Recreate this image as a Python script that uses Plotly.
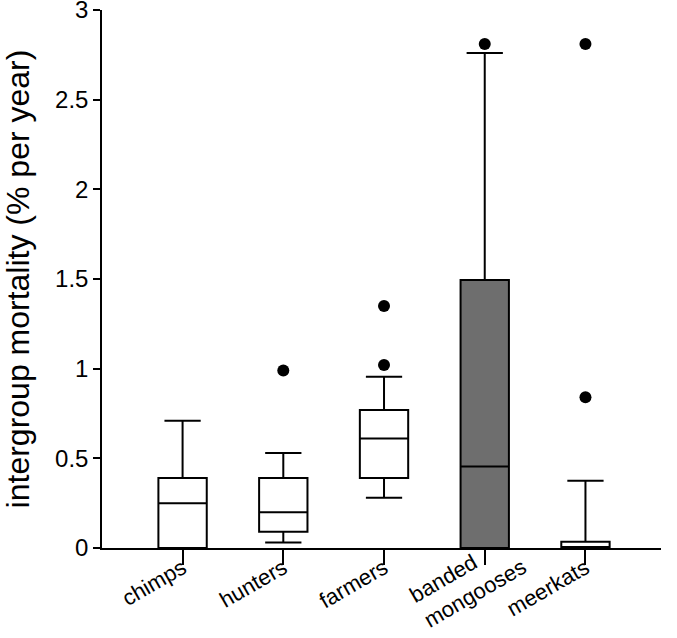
import plotly.graph_objects as go

categories = ["chimps", "hunters", "farmers", "banded mongooses", "meerkats"]
tick_labels = ["chimps", "hunters", "farmers", "", "meerkats"]
two_line_label = "banded<br>mongooses"
q1 = [0.0, 0.09, 0.39, 0.0, 0.0]
median = [0.25, 0.20, 0.61, 0.455, 0.0]
q3 = [0.39, 0.39, 0.77, 1.495, 0.035]
lower = [0.0, 0.03, 0.28, 0.0, 0.0]
upper = [0.71, 0.53, 0.955, 2.76, 0.375]
fills = ["white", "white", "white", "#6e6e6e", "white"]

outlier_cat = ["hunters", "farmers", "farmers", "banded mongooses", "meerkats", "meerkats"]
outlier_val = [0.99, 1.02, 1.35, 2.81, 0.84, 2.81]

fig = go.Figure()
for i, c in enumerate(categories):
    fig.add_trace(go.Box(
        x=[c], q1=[q1[i]], median=[median[i]], q3=[q3[i]],
        lowerfence=[lower[i]], upperfence=[upper[i]],
        fillcolor=fills[i], line=dict(color="black", width=2),
        width=0.48, whiskerwidth=0.75, boxpoints=False,
        showlegend=False, hoverinfo="skip",
    ))

fig.add_trace(go.Scatter(
    x=outlier_cat, y=outlier_val, mode="markers",
    marker=dict(color="black", size=12), showlegend=False, hoverinfo="skip",
))

# two-line category label, left-aligned like the original
fig.add_annotation(
    x=categories[3], y=0, xref="x", yref="y", text=two_line_label,
    showarrow=False, textangle=-30, align="left",
    xanchor="right", yanchor="top", xshift=49, yshift=22,
    font=dict(size=22, color="black"),
)

fig.update_layout(
    width=677, height=638,
    margin=dict(l=102, r=16, t=10, b=90),
    plot_bgcolor="white", paper_bgcolor="white",
    font=dict(family="Liberation Sans, Arial, sans-serif", color="black"),
    xaxis=dict(
        type="category", categoryorder="array", categoryarray=categories,
        tickvals=categories, ticktext=tick_labels,
        range=[-0.8, 4.75], automargin=False, ticklabeloverflow="allow",
        showline=True, linecolor="black", linewidth=1.5,
        ticks="outside", ticklen=15, tickwidth=1.5, tickcolor="black",
        tickangle=-30, tickfont=dict(size=22), showgrid=False,
        ticklabelstandoff=-18,
    ),
    yaxis=dict(
        range=[0, 3], tickvals=[0, 0.5, 1, 1.5, 2, 2.5, 3],
        ticktext=["0", "0.5", "1", "1.5", "2", "2.5", "3"],
        automargin=False, ticklabeloverflow="allow",
        showline=True, linecolor="black", linewidth=1.5,
        ticks="outside", ticklen=7, tickwidth=1.5, tickcolor="black",
        tickfont=dict(size=24), showgrid=False, zeroline=False,
        title=dict(text="intergroup mortality (% per year)", font=dict(size=32), standoff=21),
    ),
)

fig.write_html(
    "out.html",
    config={"displayModeBar": False},
    post_script="document.body.style.margin='0';document.body.style.overflow='hidden';",
)
